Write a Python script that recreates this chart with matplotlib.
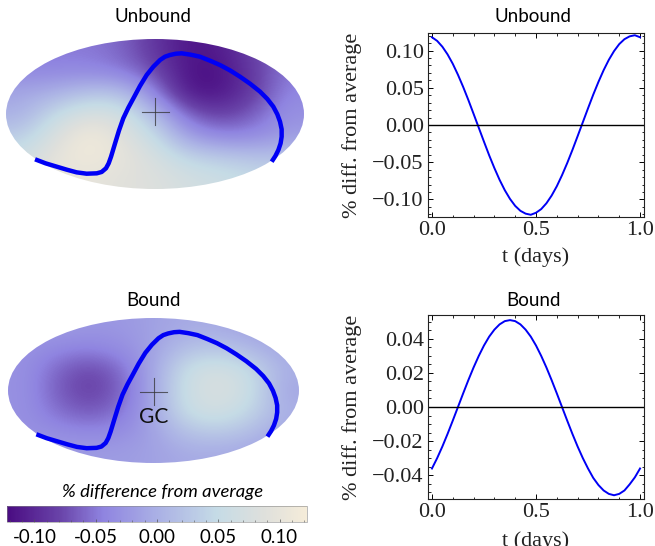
import numpy as np
import matplotlib
matplotlib.use('Agg')
import matplotlib.pyplot as plt
from matplotlib.colors import LinearSegmentedColormap, Normalize
from matplotlib.cm import ScalarMappable
from matplotlib.patches import Ellipse
from matplotlib.ticker import MultipleLocator, FuncFormatter

W, H = 655, 546

#sky maps: values on a coarse grid, x is -1..1 and y is 1..-1 over the ellipse
sky_unbound = [
    [-.05, -.05, -.05, -.06, -.09, -.115, -.11, -.08, -.05],
    [-.04, -.04, -.04, -.05, -.075, -.118, -.118, -.085, -.05],
    [-.01, .00, .02, .02, -.045, -.115, -.115, -.085, -.04],
    [.00, .05, .08, .07, .01, -.065, -.085, -.065, -.03],
    [.03, .08, .12, .09, .05, -.02, -.045, -.04, -.02],
    [.06, .10, .115, .10, .075, .04, .03, .02, .02],
    [.08, .10, .10, .09, .085, .07, .06, .05, .04],
]
sky_bound = [
    [-.02, -.02, -.025, -.025, -.015, -.005, -.005, -.015, -.02],
    [-.03, -.04, -.045, -.035, -.015, .02, .025, .01, -.01],
    [-.03, -.06, -.08, -.06, -.01, .055, .075, .05, .00],
    [-.03, -.065, -.085, -.065, -.01, .06, .08, .06, -.01],
    [-.03, -.055, -.07, -.055, -.01, .055, .07, .045, .00],
    [-.03, -.035, -.04, -.035, -.015, .02, .03, .015, -.01],
    [-.02, -.02, -.02, -.02, -.015, -.005, -.005, -.01, -.02],
]

#galactic plane track, same for both maps
plane_x = [-.805, -.734, -.660, -.593, -.526, -.459, -.391, -.358, -.329, -.311, -.295, -.268, -.242, -.213,
           -.179, -.145, -.101, -.056, -.011, .034, .067, .101, .141, .179, .239, .302, .369, .436, .503, .570,
           .638, .705, .754, .794, .821, .839, .850, .850, .843, .828, .808, .783]
plane_y = [-.604, -.658, -.702, -.742, -.778, -.796, -.791, -.773, -.724, -.658, -.569, -.391, -.222, -.058,
           .084, .209, .373, .520, .631, .720, .764, .787, .804, .809, .791, .764, .711, .653, .582, .498,
           .404, .298, .200, .098, -.004, -.102, -.204, -.302, -.391, -.480, -.560, -.636]

t_days = np.linspace(0, 1, 41)
diff_unbound = [.1178, .1129, .1051, .0948, .0822, .0674, .0511, .0335, .0150, -.0037, -.0224, -.0407, -.0578,
                -.0736, -.0875, -.0992, -.1086, -.1152, -.1190, -.1205, -.1178, -.1129, -.1051, -.0948, -.0822,
                -.0674, -.0511, -.0335, -.0150, .0037, .0224, .0407, .0578, .0736, .0875, .0992, .1086, .1152,
                .1190, .1205, .1178]
diff_bound = [-.0361, -.0300, -.0232, -.0158, -.0080, 0, .0080, .0158, .0232, .0300, .0361, .0413, .0454, .0485,
              .0504, .0510, .0504, .0485, .0454, .0413, .0361, .0300, .0232, .0158, .0080, 0, -.0080, -.0158,
              -.0232, -.0300, -.0361, -.0416, -.0458, -.0490, -.0510, -.0518, -.0510, -.0490, -.0454, -.0413,
              -.0361]

cbar_ticks = [-.10, -.05, 0, .05, .10]

cmap_pos = [0, .18, .32, .5, .7, .86, 1]
cmap_col = ['#4a0c82', '#6a45aa', '#8f84e0', '#aab0e5', '#c5dbe6', '#dfe0dc', '#f5ecd9']
cmap = LinearSegmentedColormap.from_list('sky', list(zip(cmap_pos, cmap_col)))
norm = Normalize(-.1224, .1224)


def px_axes(left, top, right, bottom):
    return fig.add_axes([left / W, 1 - bottom / H, (right - left) / W, (bottom - top) / H])


def sky_map(box, values, title, title_y, cross_y, gc=False):
    ax = px_axes(*box)
    img = ax.imshow(values, extent=(-1, 1, -1, 1), aspect='auto', cmap=cmap, norm=norm, interpolation='bicubic')
    img.set_clip_path(Ellipse((0, 0), 2, 2, transform=ax.transData))
    ax.plot(plane_x, plane_y, color='#0000f5', lw=3.2, solid_capstyle='butt', solid_joinstyle='round')
    sx = 13.5 / ((box[2] - box[0]) / 2)
    sy = 13.5 / ((box[3] - box[1]) / 2)
    ax.plot([-sx, sx], [cross_y, cross_y], color='#333333', lw=.8, alpha=.75)
    ax.plot([0, 0], [cross_y - sy, cross_y + sy], color='#333333', lw=.8, alpha=.75)
    if gc:
        ax.text(0, -.37, 'GC', ha='center', va='center', fontsize=15, family='Lato', color='#111111')
    ax.set_xlim(-1, 1)
    ax.set_ylim(-1, 1)
    ax.axis('off')
    fig.text(153 / W, 1 - title_y / H, title, ha='center', va='center', fontsize=13.5, family='Lato')


def curve(box, t, y, ylim, major, minor, title, title_y, label_y):
    ax = px_axes(*box)
    ax.plot(t, y, color='#0000f5', lw=1.4)
    ax.plot([-.019, 1.019], [0, 0], color='black', lw=1)
    ax.set_xlim(-.019, 1.019)
    ax.set_ylim(*ylim)
    ax.xaxis.set_major_locator(MultipleLocator(.5))
    ax.xaxis.set_minor_locator(MultipleLocator(.1))
    ax.yaxis.set_major_locator(MultipleLocator(major))
    ax.yaxis.set_minor_locator(MultipleLocator(minor))
    ax.yaxis.set_major_formatter(FuncFormatter(lambda v, p: ('%.2f' % v).replace('-', '\u2212')))
    ax.xaxis.set_major_formatter(FuncFormatter(lambda v, p: '%.1f' % v))
    ax.tick_params(which='major', direction='in', top=True, right=True, length=3.5, width=.7, pad=3, labelsize=16,
                   labelcolor='#222222')
    ax.tick_params(which='minor', direction='in', top=True, right=True, length=1.8, width=.6)
    for s in ax.spines.values():
        s.set_linewidth(.8)
        s.set_color('#222222')
    for lab in ax.get_xticklabels() + ax.get_yticklabels():
        lab.set_family('Liberation Serif')
    fig.text(533 / W, 1 - title_y / H, title, ha='center', va='center', fontsize=13.5, family='Lato')
    fig.text(536 / W, 1 - label_y / H, 't (days)', ha='center', va='center', fontsize=16, family='Liberation Serif',
             color='#222222')
    fig.text(352 / W, 1 - (box[1] + box[3]) / 2 / H, '% diff. from average', rotation=90, ha='center', va='center',
             fontsize=16, family='Liberation Serif', color='#222222')


fig = plt.figure(figsize=(W / 100, H / 100), dpi=100)

sky_map((6, 39, 304, 189), sky_unbound, 'Unbound', 17, .03)
sky_map((8, 318, 299, 463), sky_bound, 'Bound', 301, -.02, gc=True)

curve((428, 33, 644, 217), t_days, diff_unbound, (-.1235, .1235), .05, .01, 'Unbound', 17, 257)
curve((428, 315, 644, 499), t_days, diff_bound, (-.054, .054), .02, .005, 'Bound', 301, 541)

cax = px_axes(7, 506, 307, 522)
cb = fig.colorbar(ScalarMappable(norm=norm, cmap=cmap), cax=cax, orientation='horizontal')
cb.set_ticks(cbar_ticks)
cb.ax.xaxis.set_minor_locator(MultipleLocator(.01))
cb.ax.set_xticklabels(['-0.10', '-0.05', '0.00', '0.05', '0.10'], family='Lato', fontsize=13.5)
cb.ax.tick_params(which='major', direction='in', length=2.5, width=.5, pad=5, color='#555555')
cb.ax.tick_params(which='minor', direction='in', length=1.2, width=.4, color='#555555')
cb.outline.set_linewidth(.4)
cb.outline.set_edgecolor('#888888')
fig.text(163 / W, 1 - 492 / H, '% difference from average', ha='center', va='center', fontsize=13.3, style='italic', family='Lato')

fig.savefig('out.png', dpi=100)
